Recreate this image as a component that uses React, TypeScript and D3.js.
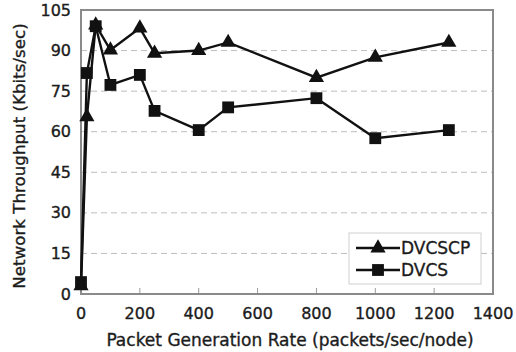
import React from 'react';
import * as d3 from 'd3';

const rates = [0, 20, 50, 100, 200, 250, 400, 500, 800, 1000, 1250];
const dvcscp = [3, 65.5, 99.4, 90.2, 98.3, 89, 90, 93, 80, 87.5, 93];
const dvcs = [4.4, 81.7, 99, 77.3, 81, 67.7, 60.6, 69, 72.4, 57.6, 60.6];
const yTicks = [0, 15, 30, 45, 60, 75, 90, 105];
const xTicks = [0, 200, 400, 600, 800, 1000, 1200, 1400];

const W = 516;
const H = 352;
const m = { left: 81, right: 23, top: 10, bottom: 58 };
const font = "'DejaVu Sans', 'Open Sans', sans-serif";
const ink = '#1c1c1c';
const thick = { stroke: ink, strokeWidth: 0.35 };

const App = () => {
  const x = d3.scaleLinear().domain([0, 1400]).range([m.left, W - m.right]);
  const y = d3.scaleLinear().domain([0, 105]).range([H - m.bottom, m.top]);

  const line = d3.line<number>()
    .x((_, i) => x(rates[i]))
    .y(d => y(d));

  const tri = d3.symbol().type(d3.symbolTriangle).size(100)();
  const sq = d3.symbol().type(d3.symbolSquare).size(140)();

  return (
    <svg width={W} height={H} style={{ position: 'absolute', left: 0, top: 0, background: '#fff' }}>
      {/* grid */}
      {yTicks.slice(1, -1).map(t => (
        <line key={t} x1={x(0)} x2={x(1400)} y1={y(t)} y2={y(t)}
          stroke="#bdbdbd" strokeWidth={1} strokeDasharray="6,4" />
      ))}
      {/* x ticks */}
      {xTicks.slice(1, -1).map(t => (
        <line key={t} x1={x(t)} x2={x(t)} y1={y(0)} y2={y(0) - 6} stroke="#999" strokeWidth={1} />
      ))}
      <rect x={x(0)} y={y(105)} width={x(1400) - x(0)} height={y(0) - y(105)}
        fill="none" stroke="#8a8a8a" strokeWidth={2} />

      {/* y labels */}
      {yTicks.map(t => (
        <text key={t} x={m.left - 10} y={y(t)} dy="0.35em" textAnchor="end"
          fontFamily={font} fontSize={16} fill={ink} {...thick}>{t}</text>
      ))}
      {xTicks.map(t => (
        <text key={t} x={x(t)} y={y(0) + 25} textAnchor="middle"
          fontFamily={font} fontSize={16} fill={ink} {...thick}>{t}</text>
      ))}
      <text x={290} y={346} textAnchor="middle"
        fontFamily={font} fontSize={17} fill={ink} {...thick}>Packet Generation Rate (packets/sec/node)</text>
      <text transform={`translate(25,${(y(0) + y(105)) / 2 + 4}) rotate(-90)`} textAnchor="middle"
        fontFamily={font} fontSize={16.7} fill={ink} {...thick}>Network Throughput (Kbits/sec)</text>

      {/* series */}
      <path d={line(dvcscp) ?? ''} fill="none" stroke="#111" strokeWidth={2.4} />
      <path d={line(dvcs) ?? ''} fill="none" stroke="#111" strokeWidth={2.4} />
      {dvcscp.map((v, i) => (
        <path key={'t' + i} d={tri ?? ''} transform={`translate(${x(rates[i])},${y(v)})`} fill="#111" />
      ))}
      {dvcs.map((v, i) => (
        <path key={'s' + i} d={sq ?? ''} transform={`translate(${x(rates[i])},${y(v)})`} fill="#111" />
      ))}

      {/* legend */}
      <rect x={349} y={233} width={132} height={51} fill="#fff" stroke="#cfcfcf" strokeWidth={1} />
      <line x1={356} x2={400} y1={248} y2={248} stroke="#111" strokeWidth={2.4} />
      <path d={tri ?? ''} transform="translate(378,248)" fill="#111" />
      <text x={401} y={248} dy="0.35em" fontFamily={font} fontSize={17} fill={ink} {...thick}>DVCSCP</text>
      <line x1={356} x2={400} y1={270} y2={270} stroke="#111" strokeWidth={2.4} />
      <path d={sq ?? ''} transform="translate(378,270)" fill="#111" />
      <text x={401} y={270} dy="0.35em" fontFamily={font} fontSize={17} fill={ink} {...thick}>DVCS</text>
    </svg>
  );
};

export default App;
